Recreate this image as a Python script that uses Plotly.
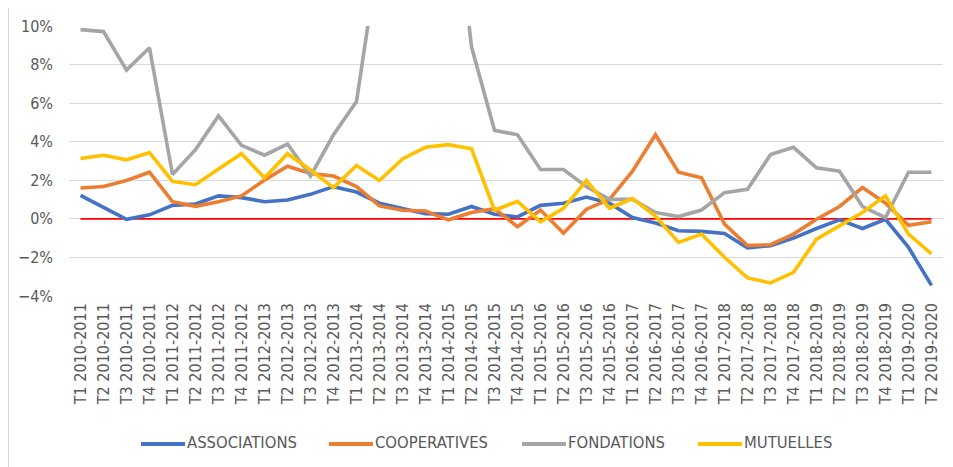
import plotly.graph_objects as go

quarters = ["T1", "T2", "T3", "T4"]
years = ["2010-2011", "2011-2012", "2012-2013", "2013-2014", "2014-2015",
         "2015-2016", "2016-2017", "2017-2018", "2018-2019", "2019-2020"]
categories = [f"{q} {y}" for y in years for q in quarters][:38]

associations = [1.22, 0.62, -0.02, 0.21, 0.70, 0.77, 1.19, 1.10, 0.89, 0.98,
                1.27, 1.67, 1.39, 0.81, 0.55, 0.27, 0.24, 0.64, 0.24, 0.10,
                0.70, 0.81, 1.13, 0.81, 0.07, -0.22, -0.62, -0.65, -0.76, -1.51,
                -1.39, -1.00, -0.50, -0.05, -0.50, -0.02, -1.48, -3.45]
cooperatives = [1.60, 1.68, 1.99, 2.42, 0.89, 0.65, 0.89, 1.19, 2.01, 2.73,
                2.35, 2.22, 1.67, 0.67, 0.45, 0.41, -0.05, 0.33, 0.53, -0.41,
                0.46, -0.74, 0.50, 1.01, 2.47, 4.36, 2.42, 2.13, -0.27, -1.39,
                -1.34, -0.79, -0.02, 0.64, 1.62, 0.81, -0.33, -0.15]
fondations = [9.81, 9.71, 7.71, 8.87, 2.30, 3.59, 5.34, 3.81, 3.30, 3.88,
              2.22, 4.36, 6.08, 15.0, 22.0, 21.0, 19.4, 8.92, 4.59, 4.36,
              2.56, 2.56, 1.67, 1.01, 1.01, 0.33, 0.12, 0.46, 1.36, 1.53,
              3.33, 3.71, 2.65, 2.47, 0.64, 0.07, 2.42, 2.42]
mutuelles = [3.13, 3.30, 3.06, 3.44, 1.94, 1.77, 2.59, 3.38, 2.13, 3.38,
             2.53, 1.62, 2.77, 1.99, 3.11, 3.71, 3.85, 3.63, 0.45, 0.91,
             -0.15, 0.55, 1.99, 0.55, 1.05, 0.15, -1.22, -0.79, -1.99, -3.06,
             -3.32, -2.77, -1.05, -0.36, 0.33, 1.19, -0.79, -1.82]
reference = [0.0] * len(categories)

series_names = ["ASSOCIATIONS", "COOPERATIVES", "FONDATIONS", "MUTUELLES"]
series_values = [associations, cooperatives, fondations, mutuelles]
series_colors = ["#4472C4", "#ED7D31", "#A5A5A5", "#FFC000"]

FONT = "DejaVu Sans Condensed, Liberation Sans Narrow, Liberation Sans, sans-serif"
TXT = "#595959"

x = list(range(len(categories)))
fig = go.Figure()
fig.add_trace(go.Scatter(x=x, y=reference, mode="lines", showlegend=False,
                         line=dict(color="#FF0000", width=1.6), hoverinfo="skip"))
for name, vals, col in zip(series_names, series_values, series_colors):
    fig.add_trace(go.Scatter(x=x, y=vals, mode="lines", name=name, showlegend=False,
                             line=dict(color=col, width=3.6)))

# the page body has an 8px margin, so the figure starts at (8, 8) on screen
OFF = 8
W, H = 953 - OFF, 467 - OFF
ml, mr, mt, mb = 69 - OFF, 10, 26 - OFF, 171
pw, ph = W - ml - mr, H - mt - mb

def px_x(p):  # screen px -> paper x
    return (p - OFF - ml) / pw

def px_y(p):  # screen px -> paper y
    return (H - mb - (p - OFF)) / ph

# chart-area border on the left
fig.add_shape(type="line", xref="paper", yref="paper",
              x0=px_x(OFF + 0.5), x1=px_x(OFF + 0.5), y0=px_y(OFF), y1=px_y(467),
              line=dict(color="#D9D9D9", width=1))

# legend (line sample + label), laid out like the reference
legend_line_x = [141, 329, 522, 698]
legend_y = 444
for lx, name, col in zip(legend_line_x, series_names, series_colors):
    fig.add_shape(type="line", xref="paper", yref="paper",
                  x0=px_x(lx), x1=px_x(lx + 44), y0=px_y(legend_y), y1=px_y(legend_y),
                  line=dict(color=col, width=4))
    fig.add_annotation(xref="paper", yref="paper", x=px_x(lx + 44), y=px_y(legend_y - 1),
                       xanchor="left", yanchor="middle", showarrow=False,
                       text=name, font=dict(family=FONT, size=16.5, color=TXT))

fig.update_layout(
    width=W, height=H,
    margin=dict(l=ml, r=mr, t=mt, b=mb),
    paper_bgcolor="white", plot_bgcolor="white",
    font=dict(family=FONT, color=TXT, size=16),
    showlegend=False,
    xaxis=dict(range=[-0.5, len(categories) - 0.5], tickmode="array",
               tickvals=x, ticktext=categories, tickangle=-90,
               showgrid=False, zeroline=False, showline=False, ticks="",
               ticklabelstandoff=3,
               tickfont=dict(family=FONT, size=16, color=TXT),
               fixedrange=True),
    yaxis=dict(range=[-4, 10], dtick=2, ticksuffix="%",
               showgrid=True, gridcolor="#D9D9D9", gridwidth=1,
               zeroline=False, showline=False, ticks="",
               ticklabelstandoff=15,
               tickfont=dict(family=FONT, size=16, color=TXT),
               fixedrange=True),
)

fig.write_html("out.html")
